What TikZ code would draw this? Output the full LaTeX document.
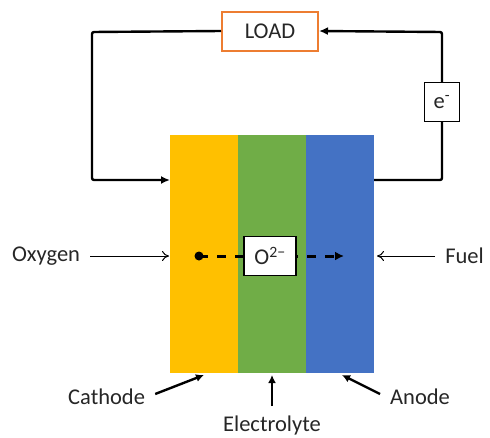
\documentclass[tikz,border=0pt]{standalone}
\usepackage{fontspec}
\setmainfont{Carlito}
\usetikzlibrary{arrows.meta}
\definecolor{cathodec}{HTML}{FFC000}
\definecolor{electc}{HTML}{70AD47}
\definecolor{anodec}{HTML}{4472C4}
\definecolor{loadc}{HTML}{ED7D31}
\definecolor{txt}{HTML}{262626}
\begin{document}
\begin{tikzpicture}[x=1pt,y=-1pt,
  wire/.style={line width=2.4pt,black,-{Latex[length=9pt,width=8pt]}},
  thinarrow/.style={line width=1pt,black,-{To[length=7pt,width=10pt]}},
  pointer/.style={line width=2.4pt,black,-{Latex[length=8pt,width=8pt]}},
  lbl/.style={font=\fontsize{22.5}{26}\selectfont,text=txt,inner sep=0pt},
  layer/.style={draw=none,minimum width=68pt,minimum height=238pt,inner sep=0pt}]
\useasboundingbox (0,0) rectangle (490,437);
% layers
\node[layer,fill=cathodec] (cat) at (204,254) {};
\node[layer,fill=electc] (ele) at (272,254) {};
\node[layer,fill=anodec] (ano) at (340,254) {};
% load
\node[draw=loadc,line width=2pt,fill=white,minimum width=96pt,minimum height=39pt,lbl,inner sep=0pt] (load) at (270,31) {LOAD};
\node[draw,line width=1.2pt,fill=white,minimum width=35pt,minimum height=39pt,lbl] (el) at (442,102) {e\textsuperscript{-}};
% wires
\coordinate (lw1) at (92,32);
\coordinate (lw2) at (92,180);
\coordinate (catin) at (170,180);
\draw[wire,rounded corners=2pt] (load.west) -- (lw1) -- (lw2) -- (catin);
\coordinate (rw1) at (442,180);
\coordinate (anout) at (374,180);
\coordinate (rw2) at (442,32);
\draw[line width=2.4pt,rounded corners=2pt] (anout) -- (rw1) -- (el.south);
\draw[wire,rounded corners=2pt] (el.north) -- (rw2) -- (load.east);
% oxygen / fuel
\node[lbl,anchor=west] (oxy) at (12,256) {Oxygen};
\coordinate (oxyend) at (169,256);
\draw[thinarrow] (oxy.east) ++(10,0) -- (oxyend);
\node[lbl,anchor=east] (fuel) at (484,256) {Fuel};
\coordinate (fuelend) at (377,256);
\draw[thinarrow] (fuel.west) ++(-10,0) -- (fuelend);
% ion transport
\coordinate (dot) at (199,256);
\coordinate (ionend) at (344,256);
\draw[line width=3pt,dash pattern=on 9pt off 9pt,-{Latex[length=9pt,width=9pt]}] (dot) -- (ionend);
\fill (dot) circle (4.5pt);
\node[draw,line width=1.5pt,fill=white,minimum width=52pt,minimum height=39pt,lbl] (ion) at (270,256) {O\textsuperscript{2\textminus}};
% labels
\node[lbl,anchor=west] (cl) at (68,397) {Cathode};
\coordinate (catp) at (204,375);
\draw[pointer] (cl.east) ++(10,-3) -- (catp);
\node[lbl] (el2) at (272,425) {Electrolyte};
\coordinate (elep) at (272,375);
\draw[pointer] (272,406) -- (elep);
\node[lbl,anchor=west] (al) at (390,397) {Anode};
\coordinate (anop) at (342,375);
\draw[pointer] (al.west) ++(-10,-3) -- (anop);
\end{tikzpicture}
\end{document}
